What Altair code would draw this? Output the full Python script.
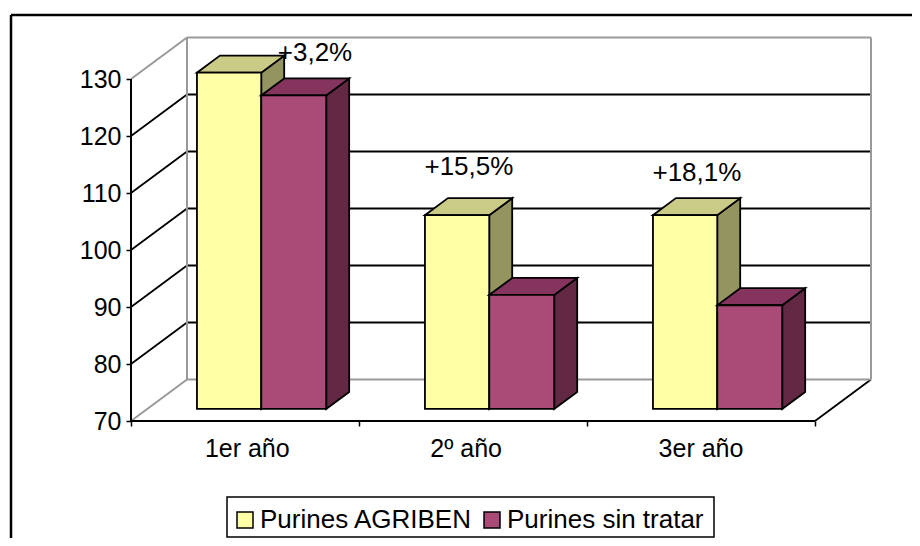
import altair as alt
import pandas as pd

# ---- data ----
categories = ["1er año", "2º año", "3er año"]
label_nudge = [0.01, -0.03, 0.0]
series = ["Purines AGRIBEN", "Purines sin tratar"]
agriben = [129.0, 104.0, 104.0]
sin_tratar = [125.0, 90.0, 88.2]
notes = ["+3,2%", "+15,5%", "+18,1%"]
note_u = [0.807, 1.482, 2.482]
note_v = [134.5, 114.6, 113.5]
y_ticks = [70, 80, 90, 100, 110, 120, 130]

# ---- colours ----
front_colors = ["#FFFFA6", "#AA4A76"]
top_colors = ["#CBCB88", "#85345E"]
side_colors = ["#949460", "#622844"]
FONT = "Liberation Sans"
FS = 25
LW = 1.8

# ---- oblique projection, in data units ----
DEPTH_U = 56 / 228      # floor depth in category units
DEPTH_V = 41.5 / 5.7    # floor depth in axis units
D0, D1 = 0.29, 0.70     # bar front and back inside the floor depth
XMAX = 739 / 228
YMAX = 70 + 384 / 5.7
x_scale = alt.Scale(domain=[0, XMAX], range=[0, 739], nice=False, zero=False)
y_scale = alt.Scale(domain=[70, YMAX], range=[384, 0], nice=False, zero=False)
x_axis = alt.Axis(values=[0, 1, 2, 3], labels=False, title=None, domain=False, grid=False,
                  tickColor="black", tickSize=5, tickWidth=1.5)
y_axis = alt.Axis(values=y_ticks, title=None, domain=False, grid=False, tickColor="black",
                  tickSize=5, tickWidth=1.5, labelFont=FONT, labelFontSize=FS,
                  labelColor="black", labelPadding=5)


def X(f):
    return alt.X(f, scale=x_scale, axis=x_axis)


def Y(f):
    return alt.Y(f, scale=y_scale, axis=y_axis)


def pu(u, d):
    return u + d * DEPTH_U


def pv(v, d):
    return v + d * DEPTH_V


# wall, floor and grid segments
segments = []
def seg(name, p, q, kind):
    segments.append({"s": name, "o": 0, "u": p[0], "v": p[1], "k": kind})
    segments.append({"s": name, "o": 1, "u": q[0], "v": q[1], "k": kind})


for t in y_ticks:
    k = "grey" if t in (70, 130) else "black"
    seg(f"diag{t}", (0, t), (pu(0, 1), pv(t, 1)), k)
    seg(f"back{t}", (pu(0, 1), pv(t, 1)), (pu(3, 1), pv(t, 1)), k)
seg("wallL", (pu(0, 1), pv(70, 1)), (pu(0, 1), pv(130, 1)), "grey")
seg("wallR", (pu(3, 1), pv(70, 1)), (pu(3, 1), pv(130, 1)), "grey")
seg("floorR", (3, 70), (pu(3, 1), pv(70, 1)), "black")
segs = pd.DataFrame(segments)


def seg_layer(kind, width, color):
    return alt.Chart(segs[segs.k == kind]).mark_line(
        color=color, strokeWidth=width, clip=False
    ).encode(x=X("u:Q"), y=Y("v:Q"), detail="s:N", order="o:Q")


# bars
bounds = [(0.218, 0.5), (0.5, 0.785)]
rows_front, rows_side, rows_top = [], [], []
for si, (name, vals) in enumerate(zip(series, [agriben, sin_tratar])):
    for i, val in enumerate(vals):
        a, b = i + bounds[si][0], i + bounds[si][1]
        bid = f"{si}-{i}"
        rows_front.append({"serie": name, "a": pu(a, D0), "b": pu(b, D0),
                           "lo": pv(70, D0), "hi": pv(val, D0), "si": si})
        for d in (D0, D1):
            rows_side.append({"id": bid, "si": si, "u": pu(b, d),
                              "lo": pv(70, d), "hi": pv(val, d)})
            rows_top.append({"id": bid, "si": si, "v": pv(val, d),
                             "a": pu(a, d), "b": pu(b, d)})
front_df = pd.DataFrame(rows_front)
side_df = pd.DataFrame(rows_side)
top_df = pd.DataFrame(rows_top)

bar_layers = []
for si in (0, 1):
    side = alt.Chart(side_df[side_df.si == si]).mark_area(
        color=side_colors[si], stroke="black", strokeWidth=LW, clip=False
    ).encode(x=X("u:Q"), y=Y("hi:Q"), y2="lo:Q", detail="id:N")
    top = alt.Chart(top_df[top_df.si == si]).mark_area(
        color=top_colors[si], stroke="black", strokeWidth=LW, orient="horizontal", clip=False
    ).encode(y=Y("v:Q"), x=X("a:Q"), x2="b:Q", detail="id:N")
    front = alt.Chart(front_df[front_df.si == si]).mark_rect(
        stroke="black", strokeWidth=LW, clip=False
    ).encode(
        x=X("a:Q"), x2="b:Q", y=Y("hi:Q"), y2="lo:Q",
        color=alt.Color(
            "serie:N",
            scale=alt.Scale(domain=series, range=front_colors),
            legend=alt.Legend(
                title=None, orient="none", legendX=92, legendY=461,
                direction="horizontal", columns=2, symbolType="square",
                symbolSize=256, symbolStrokeColor="black", symbolStrokeWidth=1.5,
                symbolOpacity=1, labelFont=FONT, labelFontSize=26, labelColor="black",
                labelOffset=2, columnPadding=6, padding=9, labelLimit=300,
            ),
        ),
    )
    bar_layers += [side, top, front]

# front axes
axes_df = pd.DataFrame({"u0": [0.0], "u1": [3.0], "v0": [70.0], "v1": [130.0]})
x_line = alt.Chart(axes_df).mark_rule(color="black", strokeWidth=2).encode(
    x=X("u0:Q"), x2="u1:Q", y=Y("v0:Q"),
)
y_line = alt.Chart(axes_df).mark_rule(color="black", strokeWidth=2).encode(
    x=X("u0:Q"), y=Y("v0:Q"), y2="v1:Q",
)

# texts
cat_df = pd.DataFrame({"c": categories, "u": [i + 0.5 + n for i, n in enumerate(label_nudge)], "v": [70.0] * 3})
cat_text = alt.Chart(cat_df).mark_text(
    font=FONT, fontSize=FS, color="black", dy=28, baseline="middle", align="center"
).encode(x=X("u:Q"), y=Y("v:Q"), text="c:N")
note_df = pd.DataFrame({"t": notes, "u": note_u, "v": note_v})
note_text = alt.Chart(note_df).mark_text(
    font=FONT, fontSize=26, color="black", baseline="middle", align="center", clip=False
).encode(x=X("u:Q"), y=Y("v:Q"), text="t:N")

# outer frame and legend box
frame_df = pd.DataFrame({"a": [0]})
frame_top = alt.Chart(frame_df).mark_rule(color="black", strokeWidth=2.5).encode(
    x=alt.value(-120), x2=alt.value(781), y=alt.value(-22)
)
frame_left = alt.Chart(frame_df).mark_rule(color="black", strokeWidth=2.5).encode(
    x=alt.value(-120), y=alt.value(-22), y2=alt.value(501)
)
legend_box = alt.Chart(frame_df).mark_rect(fill="white", stroke="black", strokeWidth=1.5).encode(
    x=alt.value(96), x2=alt.value(583), y=alt.value(460), y2=alt.value(500)
)

chart = alt.layer(
    frame_top, frame_left, legend_box,
    seg_layer("black", LW, "black"),
    seg_layer("grey", 2, "#999999"),
    *bar_layers,
    x_line, y_line, cat_text, note_text,
).properties(
    width=739, height=384,
    padding={"left": 123, "top": 29, "right": 42, "bottom": 117},
    autosize=alt.AutoSizeParams(type="none"),
    background="white",
).configure_view(stroke=None)

chart.save("out.html", embed_options={"renderer": "svg", "actions": False})
